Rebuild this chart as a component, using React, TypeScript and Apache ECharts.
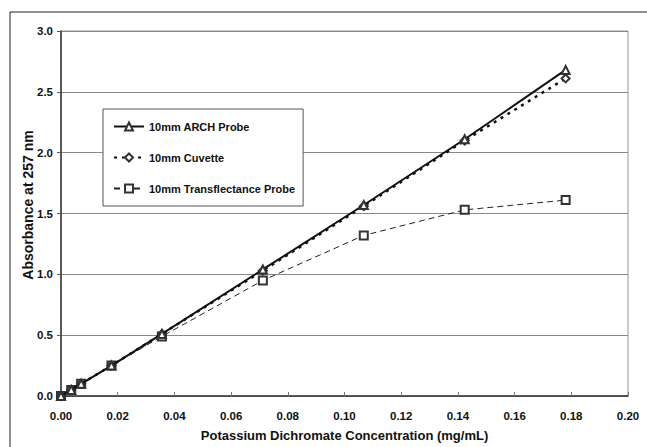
import React, { useEffect, useRef } from "react";
import * as echarts from "echarts";

const concentrations = [0, 0.0036, 0.0071, 0.0178, 0.0356, 0.0712, 0.1068, 0.1424, 0.178];
const archProbe = [0, 0.05, 0.1, 0.25, 0.51, 1.04, 1.57, 2.11, 2.68];
const cuvette = [0, 0.05, 0.1, 0.25, 0.51, 1.03, 1.56, 2.1, 2.61];
const transflectance = [0, 0.05, 0.1, 0.25, 0.49, 0.95, 1.32, 1.53, 1.61];
const seriesNames = ["10mm ARCH Probe", "10mm Cuvette", "10mm Transflectance Probe"];
const xTitle = "Potassium Dichromate Concentration (mg/mL)";
const yTitle = "Absorbance at 257 nm";

const pairs = (ys: number[]) => concentrations.map((x, i) => [x, ys[i]]);

export default function App() {
  const ref = useRef<HTMLDivElement>(null);
  useEffect(() => {
    document.body.style.margin = "0";
    document.body.style.overflow = "hidden";
    const chart = echarts.init(ref.current!, null, { renderer: "svg" });
    const font = "'Liberation Sans', Arial, sans-serif";
    chart.setOption({
      animation: false,
      backgroundColor: "#fff",
      textStyle: { fontFamily: font },
      graphic: [
        {
          type: "polyline",
          shape: { points: [[10, 447], [10, 12], [647, 12]] },
          style: { fill: "none", stroke: "#222", lineWidth: 1 },
          z: -1,
        },
        {
          type: "text",
          x: 28,
          y: 205,
          rotation: Math.PI / 2,
          style: {
            text: yTitle,
            fontFamily: font,
            fontWeight: "bold",
            fontSize: 14,
            fill: "#111",
            align: "center",
            verticalAlign: "middle",
          },
        },
      ],
      grid: {
        left: 61,
        top: 31,
        width: 567,
        height: 372,
        show: true,
        borderColor: "#999",
        borderWidth: 1,
        containLabel: false,
      },
      legend: {
        left: 103,
        top: 109,
        orient: "vertical",
        data: seriesNames,
        backgroundColor: "#fff",
        borderColor: "#555",
        borderWidth: 1,
        padding: [12, 8, 12, 10],
        itemGap: 20,
        itemWidth: 30,
        itemHeight: 10,
        textStyle: { fontFamily: font, fontWeight: "bold", fontSize: 11, color: "#111" },
      },
      xAxis: {
        type: "value",
        min: 0,
        max: 0.2,
        interval: 0.02,
        name: xTitle,
        nameLocation: "middle",
        nameGap: 33,
        nameTextStyle: { fontFamily: font, fontWeight: "bold", fontSize: 13, color: "#111" },
        axisLine: { show: true, lineStyle: { color: "#333", width: 1.5 } },
        axisTick: { show: true, inside: true, length: 4, lineStyle: { color: "#777" } },
        axisLabel: {
          formatter: (v: number) => v.toFixed(2),
          fontFamily: font,
          fontWeight: "bold",
          fontSize: 11.5,
          color: "#111",
          margin: 14,
        },
        splitLine: { show: false },
      },
      yAxis: {
        type: "value",
        min: 0,
        max: 3,
        interval: 0.5,
        axisLine: { show: true, lineStyle: { color: "#333", width: 1.5 } },
        axisTick: { show: true, inside: false, length: 4, lineStyle: { color: "#555" } },
        axisLabel: {
          formatter: (v: number) => v.toFixed(1),
          fontFamily: font,
          fontWeight: "bold",
          fontSize: 11.5,
          color: "#111",
          margin: 8,
        },
        splitLine: { show: true, lineStyle: { color: "#888", width: 1 } },
      },
      series: [
        {
          name: seriesNames[2],
          type: "line",
          data: pairs(transflectance),
          symbol: "emptyRect",
          symbolSize: 8,
          itemStyle: { color: "#333", borderColor: "#333", borderWidth: 1 },
          lineStyle: { color: "#222", width: 1, type: [6, 4] },
          z: 2,
        },
        {
          name: seriesNames[1],
          type: "line",
          data: pairs(cuvette),
          symbol: "emptyDiamond",
          symbolSize: 8,
          itemStyle: { color: "#333", borderColor: "#333", borderWidth: 1 },
          lineStyle: { color: "#111", width: 2.5, type: [3, 5] },
          z: 3,
        },
        {
          name: seriesNames[0],
          type: "line",
          data: pairs(archProbe),
          symbol: "emptyTriangle",
          symbolSize: 8,
          itemStyle: { color: "#333", borderColor: "#333", borderWidth: 1 },
          lineStyle: { color: "#111", width: 2 },
          z: 4,
        },
      ],
    });
    return () => chart.dispose();
  }, []);
  return (
    <div
      ref={ref}
      style={{ width: 647, height: 447, position: "absolute", left: 0, top: 0, overflow: "hidden" }}
    />
  );
}
